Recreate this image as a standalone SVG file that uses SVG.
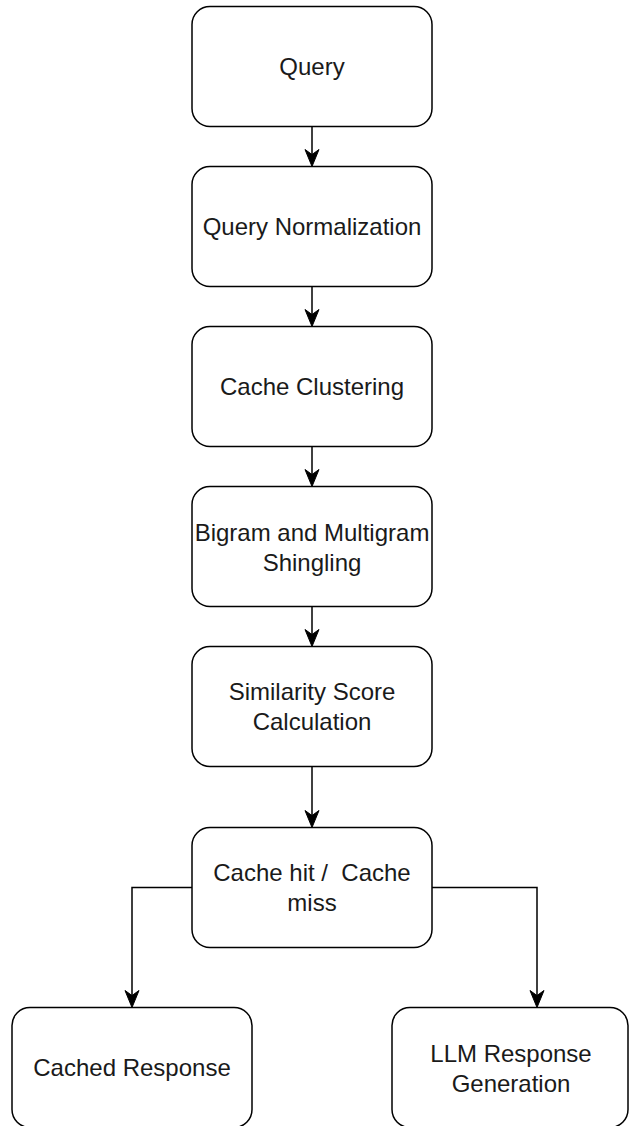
<svg xmlns="http://www.w3.org/2000/svg" width="630" height="1126" viewBox="0 0 630 1126">
  <style>
    .box { fill: #ffffff; stroke: #000000; stroke-width: 1.5; }
    .lbl { font-family: "Liberation Sans", Arial, sans-serif; font-size: 24px; fill: #1a1a1a; text-anchor: middle; white-space: pre; }
    .edge { fill: none; stroke: #000000; stroke-width: 1.5; }
  </style>
  <defs>
    <marker id="arrow" markerUnits="userSpaceOnUse" viewBox="-1 -8 20 16" refX="7" refY="0" markerWidth="20" markerHeight="16" orient="auto" overflow="visible">
      <path d="M0,-7 L17,0 L0,7 L5,0 Z" fill="#000000" stroke="#000000" stroke-width="1"/>
    </marker>
  </defs>
  <rect width="630" height="1126" fill="#ffffff"/>

  <g id="connectors">
    <line class="edge" x1="312" y1="126.5" x2="312" y2="156.5" marker-end="url(#arrow)"/>
    <line class="edge" x1="312" y1="286.5" x2="312" y2="316.5" marker-end="url(#arrow)"/>
    <line class="edge" x1="312" y1="446.5" x2="312" y2="476.5" marker-end="url(#arrow)"/>
    <line class="edge" x1="312" y1="606.5" x2="312" y2="636.5" marker-end="url(#arrow)"/>
    <line class="edge" x1="312" y1="766.5" x2="312" y2="817.5" marker-end="url(#arrow)"/>
    <path class="edge" d="M192,887.5 H132 V997.5" marker-end="url(#arrow)"/>
    <path class="edge" d="M432,887.5 H537 V997.5" marker-end="url(#arrow)"/>
  </g>

  <g id="node-query">
    <rect class="box" x="192" y="6.5" width="240" height="120" rx="18" ry="18"/>
    <text class="lbl" x="312" y="75">Query</text>
  </g>
  <g id="node-normalization">
    <rect class="box" x="192" y="166.5" width="240" height="120" rx="18" ry="18"/>
    <text class="lbl" x="312" y="234.5">Query Normalization</text>
  </g>
  <g id="node-clustering">
    <rect class="box" x="192" y="326.5" width="240" height="120" rx="18" ry="18"/>
    <text class="lbl" x="312" y="394.5">Cache Clustering</text>
  </g>
  <g id="node-shingling">
    <rect class="box" x="192" y="486.5" width="240" height="120" rx="18" ry="18"/>
    <text class="lbl" x="312" y="540.5">Bigram and Multigram</text>
    <text class="lbl" x="312" y="570.5">Shingling</text>
  </g>
  <g id="node-similarity">
    <rect class="box" x="192" y="646.5" width="240" height="120" rx="18" ry="18"/>
    <text class="lbl" x="312" y="700">Similarity Score</text>
    <text class="lbl" x="312" y="730">Calculation</text>
  </g>
  <g id="node-hitmiss">
    <rect class="box" x="192" y="827.5" width="240" height="120" rx="18" ry="18"/>
    <text class="lbl" x="312" y="881">Cache hit /  Cache</text>
    <text class="lbl" x="312" y="911">miss</text>
  </g>
  <g id="node-cached">
    <rect class="box" x="12" y="1007.5" width="240" height="120" rx="18" ry="18"/>
    <text class="lbl" x="132" y="1076">Cached Response</text>
  </g>
  <g id="node-llm">
    <rect class="box" x="392" y="1007.5" width="236" height="120" rx="18" ry="18"/>
    <text class="lbl" x="511" y="1061.5">LLM Response</text>
    <text class="lbl" x="511" y="1091.5">Generation</text>
  </g>
</svg>
